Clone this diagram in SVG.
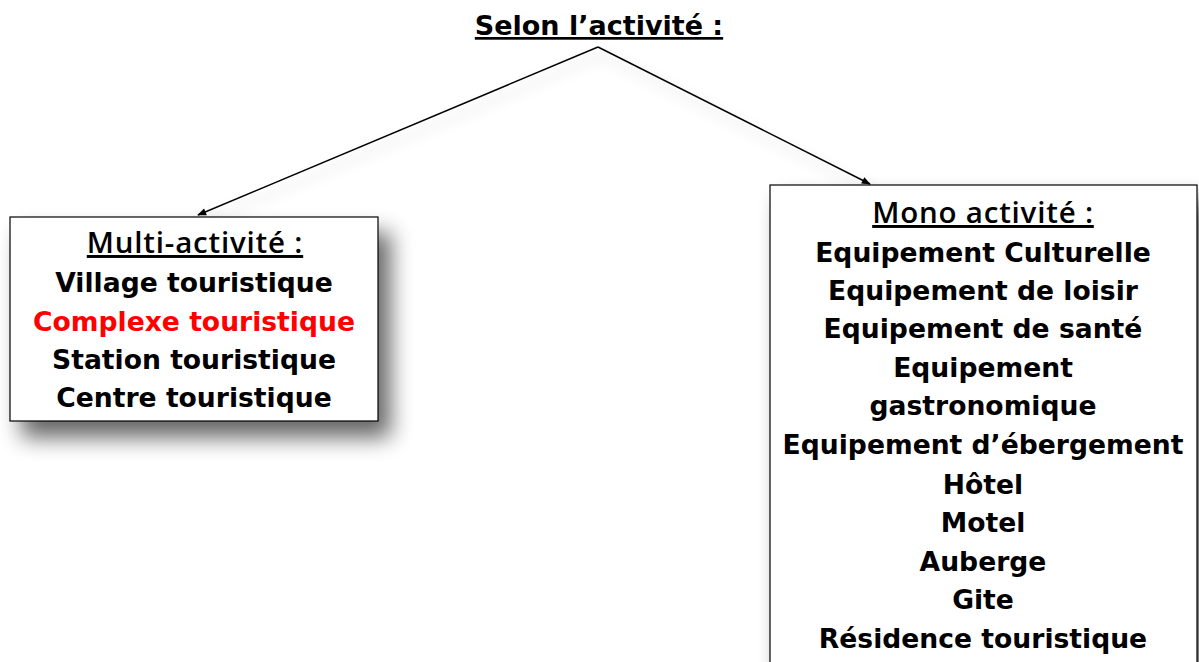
<svg xmlns="http://www.w3.org/2000/svg" width="1199" height="662" viewBox="0 0 1199 662">
  <defs>
    <style>
      .t { font-family: "DejaVu Sans", "Liberation Sans", sans-serif; font-weight: bold; font-size: 26.6px; text-anchor: middle; fill: #000; }
      .red { fill: #ff0000; }
      .h { font-family: "Open Sans", "DejaVu Sans", sans-serif; font-weight: 600; font-size: 29.5px; letter-spacing: 0.8px; text-decoration: underline; }
      .box { fill: #fff; stroke: #000; stroke-width: 1.2; }
      .conn { stroke: #000; stroke-width: 1.5; fill: none; }
    </style>
    <filter id="sh" x="-20%" y="-20%" width="150%" height="150%">
      <feGaussianBlur in="SourceAlpha" stdDeviation="11"/>
      <feOffset dx="12" dy="16" result="b"/>
      <feComponentTransfer><feFuncA type="linear" slope="0.6"/></feComponentTransfer>
      <feMerge><feMergeNode/><feMergeNode in="SourceGraphic"/></feMerge>
    </filter>
    <filter id="lsh" x="-20%" y="-50%" width="140%" height="200%">
      <feGaussianBlur in="SourceAlpha" stdDeviation="7"/>
      <feOffset dx="4" dy="8" result="b"/>
      <feComponentTransfer><feFuncA type="linear" slope="0.25"/></feComponentTransfer>
      <feMerge><feMergeNode/><feMergeNode in="SourceGraphic"/></feMerge>
    </filter>
    <marker id="arr" viewBox="0 0 10 10" refX="9" refY="5" markerWidth="10" markerHeight="9" orient="auto" markerUnits="userSpaceOnUse">
      <path d="M0,1 L10,5 L0,9 z" fill="#000"/>
    </marker>
  </defs>
  <rect width="1199" height="662" fill="#fff"/>
  <g id="title">
    <text class="t" x="599" y="35" style="text-decoration: underline; font-size: 27px;">Selon l’activité :</text>
  </g>
  <g id="connectors" filter="url(#lsh)">
    <line class="conn" x1="598" y1="47" x2="198" y2="215" marker-end="url(#arr)"/>
    <line class="conn" x1="598" y1="47" x2="870" y2="184" marker-end="url(#arr)"/>
  </g>
  <g id="multi">
    <rect class="box" x="10" y="217" width="368" height="204" filter="url(#sh)"/>
    <text class="t h" x="195" y="253">Multi-activité :</text>
    <text class="t" x="194" y="292">Village touristique</text>
    <text class="t red" x="194" y="331">Complexe touristique</text>
    <text class="t" x="194" y="369">Station touristique</text>
    <text class="t" x="194" y="407">Centre touristique</text>
  </g>
  <g id="mono">
    <rect class="box" x="770" y="185" width="427" height="490" filter="url(#sh)"/>
    <text class="t h" x="983" y="223">Mono activité :</text>
    <text class="t" x="983" y="262">Equipement Culturelle</text>
    <text class="t" x="983" y="300">Equipement de loisir</text>
    <text class="t" x="983" y="338">Equipement de santé</text>
    <text class="t" x="983" y="377">Equipement</text>
    <text class="t" x="983" y="415">gastronomique</text>
    <text class="t" x="983" y="454">Equipement d’ébergement</text>
    <text class="t" x="983" y="494">Hôtel</text>
    <text class="t" x="983" y="532">Motel</text>
    <text class="t" x="983" y="571">Auberge</text>
    <text class="t" x="983" y="609">Gite</text>
    <text class="t" x="983" y="648">Résidence touristique</text>
  </g>
</svg>
